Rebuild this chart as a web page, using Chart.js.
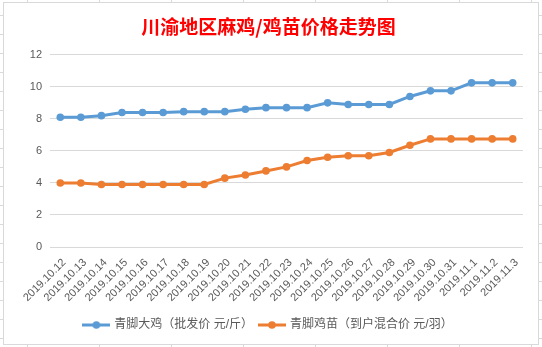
<!DOCTYPE html>
<html>
<head>
<meta charset="utf-8">
<script src="https://cdn.jsdelivr.net/npm/chart.js@4/dist/chart.umd.min.js"></script>
<style>
  html, body { margin: 0; padding: 0; }
  body {
    width: 542px; height: 347px; overflow: hidden; position: relative;
    background-color: #fff;
    background-image:
      linear-gradient(to right, #dadada 0, #dadada 1px, transparent 1px),
      linear-gradient(to bottom, #dadada 0, #dadada 1px, transparent 1px);
    background-size: 72px 100%, 100% 19px;
    background-position: 27px 0, 0 15px;
  }
  #frame {
    position: absolute; left: 3px; top: 2px; width: 536px; height: 343px;
    box-sizing: border-box; border: 1px solid #d9d9d9; background: #fff;
  }
  canvas { display: block; }
</style>
</head>
<body>
<div id="frame"><canvas id="c" width="534" height="341"></canvas></div>
<script>
const titleText = '川渝地区麻鸡/鸡苗价格走势图';
const categories = ['2019.10.12','2019.10.13','2019.10.14','2019.10.15','2019.10.16','2019.10.17','2019.10.18','2019.10.19','2019.10.20','2019.10.21','2019.10.22','2019.10.23','2019.10.24','2019.10.25','2019.10.26','2019.10.27','2019.10.28','2019.10.29','2019.10.30','2019.10.31','2019.11.1','2019.11.2','2019.11.3'];
const seriesNames = ['青脚大鸡（批发价 元/斤）', '青脚鸡苗（到户混合价 元/羽）'];
const bigChicken = [8.1,8.1,8.2,8.4,8.4,8.4,8.45,8.45,8.45,8.6,8.7,8.7,8.7,9.0,8.9,8.9,8.9,9.4,9.75,9.75,10.25,10.25,10.25];
const chicks = [4.0,4.0,3.9,3.9,3.9,3.9,3.9,3.9,4.3,4.5,4.75,5.0,5.4,5.6,5.7,5.7,5.9,6.35,6.75,6.75,6.75,6.75,6.75];
const yTicks = [0,2,4,6,8,10,12];

const colors = ['#5B9BD5', '#ED7D31'];
const fontFam = '"Liberation Sans", Arial, "Noto Sans CJK SC", sans-serif';

function legendIcon(color) {
  const cv = document.createElement('canvas');
  cv.width = 28; cv.height = 10;
  const g = cv.getContext('2d');
  g.strokeStyle = color; g.lineWidth = 3; g.lineCap = 'butt';
  g.beginPath(); g.moveTo(0, 5); g.lineTo(28, 5); g.stroke();
  g.fillStyle = color;
  g.beginPath(); g.arc(14, 5, 3.8, 0, Math.PI * 2); g.fill();
  return cv;
}
const icons = colors.map(legendIcon);

new Chart(document.getElementById('c'), {
  type: 'line',
  data: {
    labels: categories,
    datasets: [
      { label: seriesNames[0], data: bigChicken, borderColor: colors[0], backgroundColor: colors[0],
        borderWidth: 3, pointRadius: 3.8, pointHoverRadius: 3.8, tension: 0, pointBorderWidth: 0 },
      { label: seriesNames[1], data: chicks, borderColor: colors[1], backgroundColor: colors[1],
        borderWidth: 3, pointRadius: 3.8, pointHoverRadius: 3.8, tension: 0, pointBorderWidth: 0 }
    ]
  },
  options: {
    responsive: false,
    animation: false,
    devicePixelRatio: 1,
    layout: { padding: { left: 10, right: 15, top: 0, bottom: 3 } },
    plugins: {
      tooltip: { enabled: false },
      title: {
        display: true, text: titleText, color: '#FF0000',
        font: { family: '"Noto Sans CJK SC", sans-serif', size: 19, weight: 'bold' },
        padding: { top: 12, bottom: 17 }
      },
      legend: {
        position: 'bottom',
        labels: {
          usePointStyle: true, pointStyleWidth: 24, padding: 7,
          color: '#595959', font: { family: fontFam, size: 12 },
          generateLabels: (chart) => chart.data.datasets.map((ds, i) => ({
            text: ds.label, pointStyle: icons[i], fillStyle: colors[i], strokeStyle: colors[i],
            lineWidth: 0, hidden: false, datasetIndex: i, fontColor: '#595959'
          }))
        }
      }
    },
    scales: {
      x: {
        offset: true,
        grid: { display: false, drawTicks: false },
        border: { display: false },
        ticks: { autoSkip: false, maxRotation: 45, minRotation: 45, color: '#595959',
                 font: { family: fontFam, size: 11 }, padding: 9, labelOffset: 4 },
        afterFit: (s) => { s.height = 65; }
      },
      y: {
        min: 0, max: 12,
        afterBuildTicks: (s) => { s.ticks = yTicks.map(v => ({ value: v })); },
        grid: { color: '#D9D9D9', lineWidth: 1, drawTicks: false },
        border: { display: false },
        ticks: { color: '#595959', font: { family: fontFam, size: 11 }, padding: 8 },
        afterFit: (s) => { s.width = 36; }
      }
    }
  }
});
</script>
</body>
</html>
